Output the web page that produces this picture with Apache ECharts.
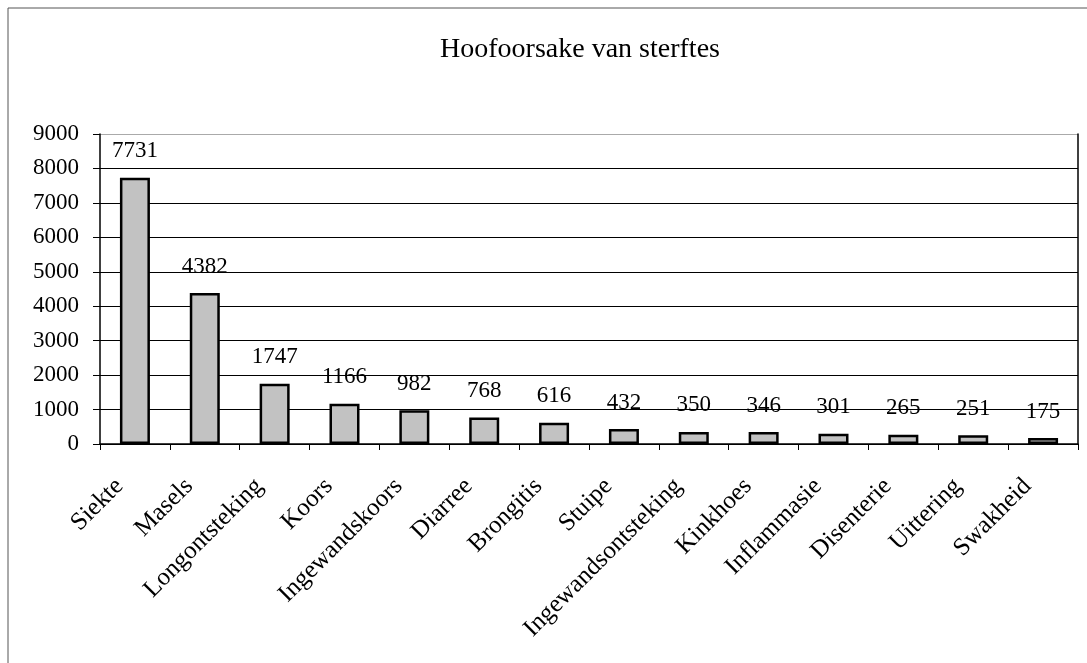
<!DOCTYPE html>
<html><head><meta charset="utf-8">
<script src="https://cdn.jsdelivr.net/npm/echarts@6/dist/echarts.min.js"></script>
<style>html,body{margin:0;padding:0;background:#fff}#c{width:1087px;height:663px}</style>
</head><body><div id="c"></div>
<script>
const categories = ['Siekte','Masels','Longontsteking','Koors','Ingewandskoors','Diarree','Brongitis','Stuipe','Ingewandsontsteking','Kinkhoes','Inflammasie','Disenterie','Uittering','Swakheid'];
const values = [7731,4382,1747,1166,982,768,616,432,350,346,301,265,251,175];
const yTicks = [0,1000,2000,3000,4000,5000,6000,7000,8000,9000];

const font = '"Liberation Serif","Times New Roman",serif';
const chart = echarts.init(document.getElementById('c'));
chart.setOption({
  animation:false,
  backgroundColor:'#fff',
  title:{text:'Hoofoorsake van sterftes',left:575,top:31,textAlign:'center',
    textStyle:{fontFamily:font,fontSize:28,fontWeight:'normal',color:'#000'}},
  graphic:[{type:'rect',shape:{x:8,y:8,width:1200,height:800},style:{fill:'none',stroke:'#555',lineWidth:1},silent:true}],
  grid:{left:100,right:9,top:134,bottom:219,containLabel:false},
  xAxis:{type:'category',data:categories,
    axisLine:{lineStyle:{color:'#000',width:1.5}},
    axisTick:{show:true,length:6,lineStyle:{color:'#000'}},
    axisLabel:{rotate:45,margin:23,padding:[0,22,0,0],interval:0,fontFamily:font,fontSize:25,color:'#000'}},
  yAxis:[{type:'value',min:yTicks[0],max:yTicks[yTicks.length-1],interval:1000,
    axisLine:{show:true,lineStyle:{color:'#000',width:1.5}},
    axisTick:{show:true,length:7,lineStyle:{color:'#000'}},
    axisLabel:{margin:21,fontFamily:font,fontSize:23,color:'#000',formatter:v=>String(v)},
    splitLine:{show:true,lineStyle:{color:['#000','#000','#000','#000','#000','#000','#000','#000','#000','#aaa'],width:1}}},
    {type:'value',position:'right',min:0,max:9000,interval:1000,
    axisLine:{show:true,lineStyle:{color:'#000',width:1.5}},axisTick:{show:false},axisLabel:{show:false},splitLine:{show:false}}],
  series:[{type:'bar',data:values,barWidth:30,
    itemStyle:{color:'#c2c2c2',borderColor:'#000',borderWidth:2.5},
    label:{show:true,position:'top',distance:15,fontFamily:font,fontSize:23,color:'#000'}}]
});
</script></body></html>
